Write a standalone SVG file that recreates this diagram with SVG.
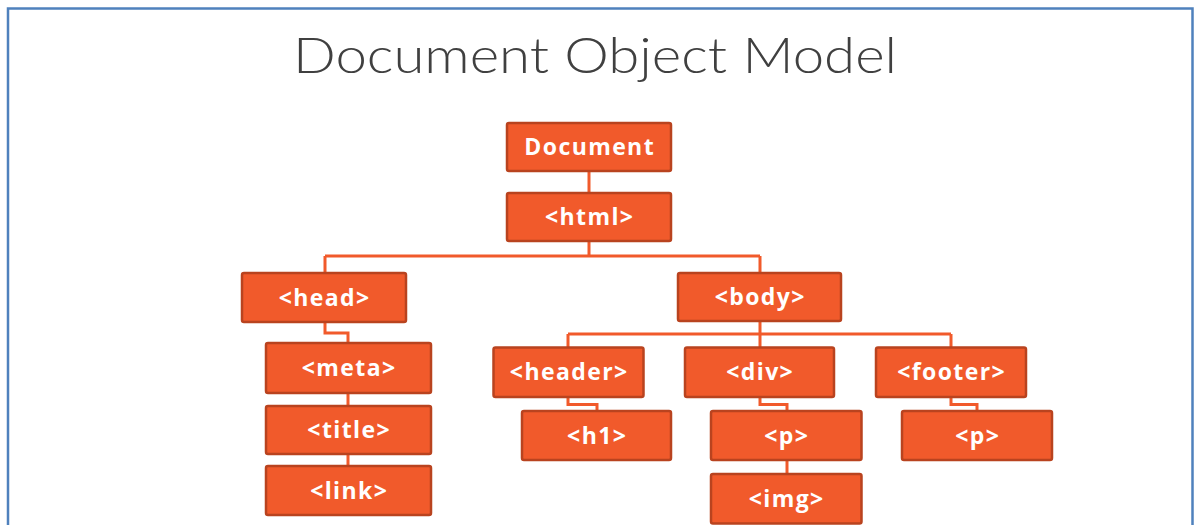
<svg xmlns="http://www.w3.org/2000/svg" width="1194" height="525" viewBox="0 0 1194 525">
  <style>
    .node rect { fill: #F15A2B; stroke: #B9431F; stroke-width: 2.5; }
    .node text { fill: #FFFFFF; font-family: "Open Sans", "Lato", sans-serif; font-weight: 700; font-size: 23px; letter-spacing: 1.4px; text-anchor: middle; dominant-baseline: central; }
    .links path { fill: none; stroke: #F15A2B; stroke-width: 3; }
    .title { fill: #404040; font-family: "Lato", "Open Sans", sans-serif; font-weight: 300; font-size: 50px; text-anchor: middle; }
  </style>
  <rect x="0" y="0" width="1194" height="525" fill="#FFFFFF"/>
  <!-- frame -->
  <path d="M8 530 V8.5 H1192.5 V530" fill="none" stroke="#4F81BD" stroke-width="2.5"/>
  <text class="title" x="595" y="73" textLength="604" lengthAdjust="spacingAndGlyphs">Document Object Model</text>

  <g class="links">
    <path d="M589 171 V192"/>
    <path d="M589 241 V256 M325 256 H760 M325 256 V273 M760 256 V273"/>
    <path d="M325 322 V333 H348 V343"/>
    <path d="M348 393 V406 M348 454 V466"/>
    <path d="M760 321 V347 M568 334 H951 M568 334 V347 M951 334 V347"/>
    <path d="M568 397 V404.5 H597 V411"/>
    <path d="M760 397 V404.5 H787 V411"/>
    <path d="M787 460 V474"/>
    <path d="M951 397 V404.5 H977 V411"/>
  </g>

  <g id="document" class="node"><rect x="507" y="123" width="164" height="48" rx="2"/><text x="589.7" y="146">Document</text></g>
  <g id="html" class="node"><rect x="507" y="193" width="164" height="48" rx="2"/><text x="589.7" y="216">&lt;html&gt;</text></g>
  <g id="head" class="node"><rect x="242" y="273" width="164" height="49" rx="2"/><text x="324.7" y="296.5">&lt;head&gt;</text></g>
  <g id="body" class="node"><rect x="678" y="273" width="163" height="48" rx="2"/><text x="760.2" y="296">&lt;body&gt;</text></g>
  <g id="meta" class="node"><rect x="266" y="343" width="165" height="50" rx="2"/><text x="349.2" y="367">&lt;meta&gt;</text></g>
  <g id="title" class="node"><rect x="266" y="406" width="165" height="48" rx="2"/><text x="349.2" y="429">&lt;title&gt;</text></g>
  <g id="link" class="node"><rect x="266" y="466" width="165" height="49" rx="2"/><text x="349.2" y="489.5">&lt;link&gt;</text></g>
  <g id="header" class="node"><rect x="493.5" y="347.5" width="150" height="49.5" rx="2"/><text x="569.2" y="371">&lt;header&gt;</text></g>
  <g id="div" class="node"><rect x="685" y="347.5" width="149" height="49.5" rx="2"/><text x="760.2" y="371">&lt;div&gt;</text></g>
  <g id="footer" class="node"><rect x="876" y="347.5" width="150" height="49.5" rx="2"/><text x="951.7" y="371">&lt;footer&gt;</text></g>
  <g id="h1" class="node"><rect x="522" y="411" width="149" height="49" rx="2"/><text x="597.2" y="434.5">&lt;h1&gt;</text></g>
  <g id="div-p" class="node"><rect x="711" y="411" width="150.5" height="49" rx="2"/><text x="786.7" y="434.5">&lt;p&gt;</text></g>
  <g id="img" class="node"><rect x="711" y="474" width="150.5" height="49.5" rx="2"/><text x="786.7" y="497.5">&lt;img&gt;</text></g>
  <g id="footer-p" class="node"><rect x="902" y="411" width="150" height="49" rx="2"/><text x="977.7" y="434.5">&lt;p&gt;</text></g>
</svg>
